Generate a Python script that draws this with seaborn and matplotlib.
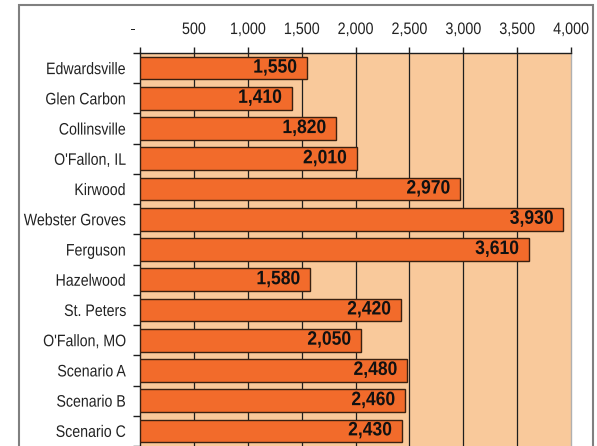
import matplotlib
matplotlib.use("Agg")
import matplotlib.pyplot as plt
from matplotlib.patches import Rectangle
from matplotlib.ticker import FuncFormatter, FixedLocator
from matplotlib.patheffects import AbstractPathEffect
from matplotlib.transforms import Affine2D
import seaborn as sns
import pandas as pd

# Values per community
places = ["Edwardsville", "Glen Carbon", "Collinsville", "O'Fallon, IL", "Kirwood",
          "Webster Groves", "Ferguson", "Hazelwood", "St. Peters", "O'Fallon, MO",
          "Scenario A", "Scenario B", "Scenario C"]
values = [1550, 1410, 1820, 2010, 2970, 3930, 3610, 1580, 2420, 2050, 2480, 2460, 2430]
x_ticks = [0, 500, 1000, 1500, 2000, 2500, 3000, 3500, 4000]


class Squeeze(AbstractPathEffect):
    """Draw text horizontally condensed, keeping the given anchor fixed."""

    def __init__(self, sx=0.86, anchor="right"):
        super().__init__()
        self.sx = sx
        self.anchor = anchor

    def draw_path(self, renderer, gc, tpath, affine, rgbFace=None):
        ext = tpath.get_extents()
        if self.anchor == "right":
            x0 = ext.x1
        elif self.anchor == "center":
            x0 = 0.5 * (ext.x0 + ext.x1)
        else:
            x0 = ext.x0
        t = Affine2D().translate(-x0, 0).scale(self.sx, 1).translate(x0, 0) + affine
        renderer.draw_path(gc, tpath, t, rgbFace)


sns.set_style("white")
plt.rcParams["font.family"] = ["Liberation Sans", "DejaVu Sans"]

BAR = "#F26B2B"
BG = "#F9C99B"
INK = "#1e1e1e"

fig = plt.figure(figsize=(5.97, 4.46), dpi=100)
ax = fig.add_axes([140 / 597, 0.0, (571 - 140) / 597, 1 - 53 / 446])
ax.set_facecolor(BG)

df = pd.DataFrame({"place": places, "value": values})
sns.barplot(data=df, x="value", y="place", orient="h", color=BAR, saturation=1,
            edgecolor="#3a2010", linewidth=1.0, width=0.75, ax=ax, zorder=3)

ax.set_xlim(0, 4000)
ax.set_ylim(len(places) - 0.5, -0.5)

# vertical grid lines
for v in x_ticks[1:-1]:
    ax.axvline(v, color=INK, lw=0.9, zorder=1)

# top axis ticks (accounting style: zero shown as a dash)
ax.xaxis.tick_top()
ax.xaxis.set_major_locator(FixedLocator(x_ticks))
ax.xaxis.set_major_formatter(FuncFormatter(lambda v, p: "-   " if v == 0 else f"{int(v):,}"))
ax.tick_params(axis="x", which="major", direction="out", length=4.5, width=1,
               color=INK, labelsize=12, pad=7, labelcolor="#222222")

# category labels and boundary ticks
ax.set_yticks(range(len(places)))
ax.set_yticklabels(places)
ax.tick_params(axis="y", which="major", length=0, labelsize=12, pad=10,
               labelcolor="#222222")
ax.yaxis.set_minor_locator(FixedLocator([i - 0.5 for i in range(len(places) + 1)]))
ax.tick_params(axis="y", which="minor", direction="out", length=5, width=1,
               color=INK, left=True)

ax.set_xlabel("")
ax.set_ylabel("")

for lab in ax.get_xticklabels():
    lab.set_path_effects([Squeeze(0.86, "center")])
for lab in ax.get_yticklabels():
    lab.set_path_effects([Squeeze(0.85, "right")])

for side in ["left", "top"]:
    ax.spines[side].set_visible(True)
    ax.spines[side].set_color(INK)
    ax.spines[side].set_linewidth(1.0)
ax.spines["right"].set_visible(True)
ax.spines["right"].set_color("#b0b0b0")
ax.spines["right"].set_linewidth(1.0)
ax.spines["bottom"].set_visible(False)

# value labels at the bar ends
for i, v in enumerate(values):
    t = ax.annotate(f"{v:,}", xy=(v, i), xytext=(-7, 0), textcoords="offset points",
                    ha="right", va="center", fontsize=14, fontweight="bold",
                    color="#111111", zorder=5)
    t.set_path_effects([Squeeze(0.9, "right")])

# outer frame
fig.patches.append(Rectangle((19 / 597, -0.05), (593 - 19) / 597, 1.05 - 5 / 446,
                             transform=fig.transFigure, fill=False,
                             edgecolor="#808080", lw=1.5, zorder=0))

fig.savefig("out.png", dpi=100)
